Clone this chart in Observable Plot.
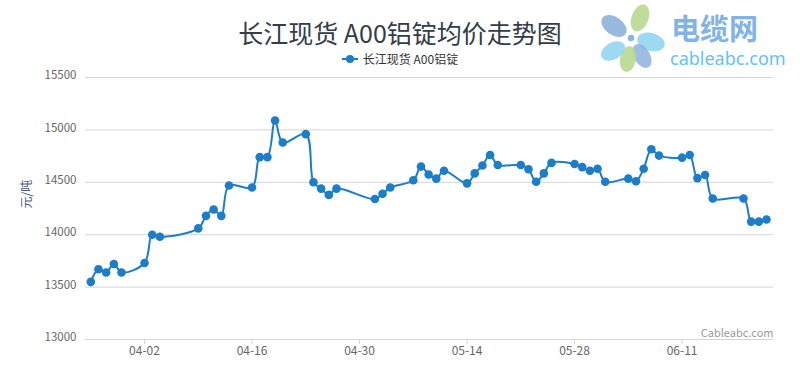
<!DOCTYPE html>
<html>
<head>
<meta charset="utf-8">
<script src="https://cdn.jsdelivr.net/npm/d3@7"></script>
<script src="https://cdn.jsdelivr.net/npm/@observablehq/plot@0.6"></script>
<style>
  html, body { margin: 0; padding: 0; background: #fff; }
  body { width: 800px; height: 372px; overflow: hidden; position: relative; font-family: "Noto Sans CJK SC", "Noto Sans", sans-serif; }
  #head { height: 66px; position: relative; }
  #title { position: absolute; left: 0; right: 0; top: 17px; text-align: center; font-size: 25px; line-height: 30px; color: #333c48; }
  #legend { position: absolute; left: 0; right: 0; top: 51px; display: flex; justify-content: center; align-items: center; font-size: 12px; color: #333; line-height: 16px; }
  #legend svg { margin-right: 5px; }
  #logo { position: absolute; left: 596px; top: 4px; width: 204px; height: 70px; }
</style>
</head>
<body>
<div id="head">
  <div id="title"></div>
  <div id="legend"></div>
</div>
<div id="chart"></div>
<svg id="logo" viewBox="0 0 204 70" width="204" height="70">
  <g transform="translate(35,34)">
    <ellipse cx="-17" cy="-12" rx="14" ry="9" transform="rotate(35 -17 -12)" fill="#8eb0dc" opacity="0.9"/>
    <ellipse cx="9" cy="-20" rx="14" ry="8.5" transform="rotate(-70 9 -20)" fill="#b7d98f" opacity="0.9"/>
    <ellipse cx="20" cy="4" rx="14" ry="9" transform="rotate(15 20 4)" fill="#93d5f3" opacity="0.9"/>
    <ellipse cx="11" cy="18" rx="13" ry="8" transform="rotate(60 11 18)" fill="#8eb0dc" opacity="0.85"/>
    <ellipse cx="-3" cy="21" rx="13" ry="8" transform="rotate(100 -3 21)" fill="#b7d98f" opacity="0.9"/>
    <ellipse cx="-18" cy="13" rx="13" ry="8.5" transform="rotate(-30 -18 13)" fill="#93d5f3" opacity="0.9"/>
    <circle cx="0" cy="0" r="5" fill="#fff"/>
    <circle cx="0" cy="0" r="3.2" fill="#8eb0dc"/>
  </g>
  <text x="75" y="36" font-size="29" font-weight="bold" fill="#82b3e6" font-family="Noto Sans CJK SC">电缆网</text>
  <text x="74" y="61" font-size="18" fill="#62c3ee" font-family="Noto Sans, sans-serif">cableabc.com</text>
</svg>
<script>
const titleText = "长江现货 A00铝锭均价走势图";
const seriesName = "长江现货 A00铝锭";
const yAxisTitle = "元/吨";
const creditText = "Cableabc.com";

const dates = [
  "2018-03-26","2018-03-27","2018-03-28","2018-03-29","2018-03-30",
  "2018-04-02","2018-04-03","2018-04-04","2018-04-09","2018-04-10",
  "2018-04-11","2018-04-12","2018-04-13","2018-04-16","2018-04-17",
  "2018-04-18","2018-04-19","2018-04-20","2018-04-23","2018-04-24",
  "2018-04-25","2018-04-26","2018-04-27","2018-05-02","2018-05-03",
  "2018-05-04","2018-05-07","2018-05-08","2018-05-09","2018-05-10",
  "2018-05-11","2018-05-14","2018-05-15","2018-05-16","2018-05-17",
  "2018-05-18","2018-05-21","2018-05-22","2018-05-23","2018-05-24",
  "2018-05-25","2018-05-28","2018-05-29","2018-05-30","2018-05-31",
  "2018-06-01","2018-06-04","2018-06-05","2018-06-06","2018-06-07",
  "2018-06-08","2018-06-11","2018-06-12","2018-06-13","2018-06-14",
  "2018-06-15","2018-06-19","2018-06-20","2018-06-21","2018-06-22"
];
const prices = [
  13550,13670,13640,13720,13640,
  13730,14000,13980,14060,14180,
  14240,14180,14470,14450,14740,
  14740,15090,14880,14960,14500,
  14440,14380,14440,14340,14390,
  14450,14520,14650,14575,14535,
  14610,14490,14585,14660,14760,
  14665,14665,14625,14505,14585,
  14685,14675,14645,14610,14630,
  14505,14535,14510,14630,14815,
  14755,14735,14760,14540,14570,
  14345,14345,14125,14125,14145
];
const xTickLabels = ["04-02","04-16","04-30","05-14","05-28","06-11"];
const yTicks = [13000,13500,14000,14500,15000,15500];

const lineColor = "#1c7dc8";
const parseDay = d3.utcParse("%Y-%m-%d");
const data = dates.map((d, i) => ({date: parseDay(d), value: prices[i]}));
const xTicks = xTickLabels.map(s => parseDay("2018-" + s));
const xDomain = [new Date(Date.UTC(2018, 2, 25, 7, 30)), new Date(Date.UTC(2018, 5, 22, 21, 50))];

document.getElementById("title").textContent = titleText;
document.getElementById("legend").innerHTML =
  `<svg width="16" height="10"><line x1="0" y1="5" x2="16" y2="5" stroke="${lineColor}" stroke-width="2"/><circle cx="8" cy="5" r="4" fill="${lineColor}"/></svg><span></span>`;
document.querySelector("#legend span").textContent = seriesName;

const chart = Plot.plot({
  width: 800,
  height: 306,
  marginTop: 11,
  marginBottom: 33,
  marginLeft: 85,
  marginRight: 27,
  style: {fontFamily: "'Noto Sans CJK SC', 'Noto Sans', sans-serif", fontSize: "11px", background: "transparent", overflow: "visible"},
  x: {type: "utc", domain: xDomain},
  y: {domain: [13000, 15500]},
  marks: [
    Plot.gridY(yTicks, {stroke: "#d6d6d6", strokeOpacity: 1, strokeWidth: 1}),
    Plot.axisY(yTicks, {tickSize: 0, tickPadding: 9, fill: "#666", fontSize: 11.5, dy: -2, label: null, tickFormat: d => String(d)}),
    Plot.axisX(xTicks, {tickSize: 5, stroke: "#c8d4e0", tickPadding: 2, fill: "#666", fontSize: 12, label: null, tickFormat: d3.utcFormat("%m-%d")}),
    Plot.text([yAxisTitle], {frameAnchor: "left", dx: -58, rotate: -90, fill: "#4d5b78", fontSize: 12}),
    Plot.text([creditText], {frameAnchor: "bottom-right", textAnchor: "end", dy: -3, fill: "#999", fontSize: 11}),
    Plot.line(data, {x: "date", y: "value", stroke: lineColor, strokeWidth: 2, curve: "catmull-rom"}),
    Plot.dot(data, {x: "date", y: "value", r: 4.3, fill: lineColor, stroke: "none"})
  ]
});
document.getElementById("chart").appendChild(chart);
</script>
</body>
</html>
